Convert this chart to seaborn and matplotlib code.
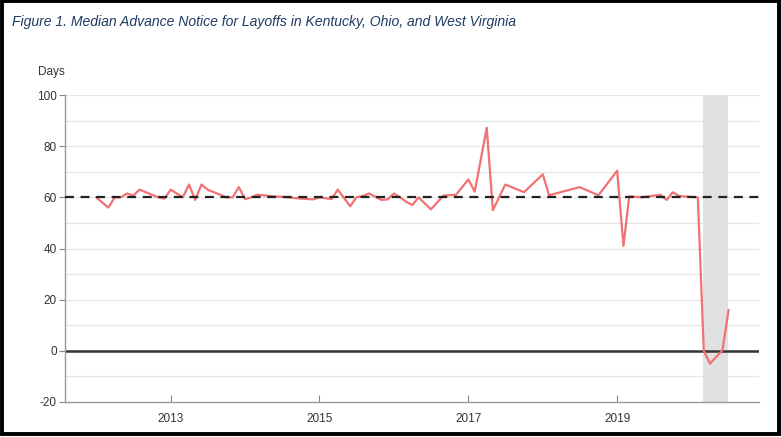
import matplotlib
matplotlib.use("Agg")
import matplotlib.pyplot as plt
import matplotlib.dates as mdates
import seaborn as sns
import pandas as pd

# monthly median advance notice (days)
months = ["2012-01", "2012-03", "2012-04", "2012-05", "2012-06", "2012-07", "2012-08",
          "2012-09", "2012-10", "2012-11", "2012-12", "2013-01", "2013-03", "2013-04",
          "2013-05", "2013-06", "2013-07", "2013-08", "2013-09", "2013-10", "2013-11",
          "2013-12", "2014-01", "2014-02", "2014-03", "2014-04", "2014-05", "2014-06",
          "2014-07", "2014-08", "2014-10", "2014-12", "2015-01", "2015-03", "2015-04",
          "2015-06", "2015-07", "2015-08", "2015-09", "2015-11", "2015-12", "2016-01",
          "2016-02", "2016-03", "2016-04", "2016-05", "2016-07", "2016-09", "2016-11",
          "2017-01", "2017-02", "2017-04", "2017-05", "2017-07", "2017-10", "2018-01",
          "2018-02", "2018-07", "2018-10", "2019-01", "2019-02", "2019-03", "2019-05",
          "2019-08", "2019-09", "2019-10", "2019-11", "2020-02", "2020-03", "2020-04",
          "2020-06", "2020-07"]
days = [60, 56, 60, 60, 61.5, 60.7, 63,
        62, 61, 60, 59.5, 63, 60, 65,
        59, 65, 63, 62, 61, 60, 60,
        64, 59.3, 60, 61, 60.8, 60.5, 60.3,
        60.2, 60, 59.5, 59.2, 60, 59.3, 63,
        56.5, 60, 60.5, 61.5, 59, 59.2, 61.5,
        60, 58.3, 57, 60, 55.3, 60.7, 61,
        67, 62.2, 87.2, 55, 65, 62, 69,
        60.8, 64, 60.8, 70.4, 41, 60.4, 60,
        61, 59, 62, 60.5, 60, 0, -5,
        0.3, 16]

reference_days = 60
band_start, band_end = "2020-02-25", "2020-06-28"
year_ticks = ["2013", "2015", "2017", "2019"]

df = pd.DataFrame({"date": pd.to_datetime(months), "days": days})

sns.set_theme(style="white")
plt.rcParams["font.family"] = ["Liberation Sans", "DejaVu Sans"]
plt.rcParams["axes.unicode_minus"] = False

fig = plt.figure(figsize=(7.81, 4.37), dpi=100)
ax = fig.add_axes([0.0832, 0.0801, 0.8886, 0.7025])

# light horizontal grid every 10 days
for v in range(-10, 101, 10):
    ax.axhline(v, color="#e6e6e6", lw=1, zorder=0)

ax.axvspan(pd.Timestamp(band_start), pd.Timestamp(band_end), color="#e1e1e1", lw=0, zorder=0.5)
ax.axhline(0, color="#333333", lw=1.8, zorder=1)
ax.axhline(reference_days, color="#222222", lw=1.6, ls=(0, (4, 3)), zorder=3)

sns.lineplot(data=df, x="date", y="days", color="#f07272", lw=1.6, ax=ax, zorder=2)

ax.set_xlim(pd.Timestamp("2011-08-01"), pd.Timestamp("2020-11-27"))
ax.set_ylim(-20, 100)
ax.set_yticks(range(-20, 101, 20))
ax.set_xticks(pd.to_datetime([y + "-01-01" for y in year_ticks]))
ax.xaxis.set_major_formatter(mdates.DateFormatter("%Y"))
ax.set_xlabel("")
ax.set_ylabel("")

ax.tick_params(axis="y", direction="out", length=4, width=0.8, color="#888888",
               labelsize=8.5, labelcolor="#333333", pad=2, left=True)
ax.tick_params(axis="x", direction="in", length=5, width=0.8, color="#888888",
               labelsize=8.5, labelcolor="#333333", pad=8, bottom=True)

for side in ["top", "right"]:
    ax.spines[side].set_visible(False)
for side in ["left", "bottom"]:
    ax.spines[side].set_color("#999999")
    ax.spines[side].set_linewidth(1)

fig.text(38 / 781, 1 - 72 / 437, "Days", fontsize=8.5, color="#333333", va="center")
fig.text(12 / 781, 1 - 22 / 437,
         "Figure 1. Median Advance Notice for Layoffs in Kentucky, Ohio, and West Virginia",
         fontsize=10.1, style="italic", color="#1f3b63", va="center",
         family=["Liberation Sans Narrow", "Liberation Sans", "DejaVu Sans"])

# black frame around the whole picture
frame = plt.Rectangle((0.002, 0.006), 0.995, 0.992, transform=fig.transFigure,
                      fill=False, edgecolor="black", lw=2.8)
fig.patches.append(frame)

fig.savefig("out.png", dpi=100)
